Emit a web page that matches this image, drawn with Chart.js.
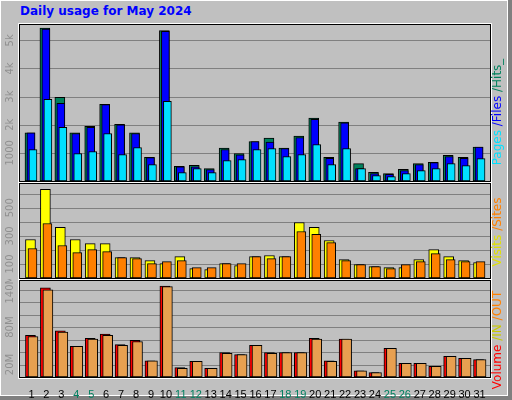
<!DOCTYPE html>
<html>
<head>
<meta charset="utf-8">
<script src="https://cdn.jsdelivr.net/npm/chart.js@4"></script>
<style>
  body { margin: 0; width: 512px; height: 400px; background: #808080; position: relative; overflow: hidden; font-family: "DejaVu Sans", sans-serif; }
  #frame { position: absolute; left: 0; top: 0; width: 506px; height: 394px; background: #c0c0c0; border: 1px solid #fff; }
  #title { position: absolute; left: 20px; top: 4px; font: bold 12px "DejaVu Sans", sans-serif; color: #0000ff; }
  canvas { position: absolute; left: 0; }
  .side { position: absolute; left: 497px; white-space: nowrap; font: 12px "DejaVu Sans", sans-serif; transform: translate(-50%, -50%) rotate(-90deg); }
</style>
</head>
<body>
<div id="frame"></div>
<div id="title">Daily usage for May 2024</div>
<canvas id="c1" style="top:23px" width="500" height="160"></canvas>
<canvas id="c2" style="top:182px" width="500" height="98"></canvas>
<canvas id="c3" style="top:279px" width="500" height="120"></canvas>
<div class="side" style="top:112px"><span style="color:#00e0ff">Pages</span><span style="color:#0000ff"> /Files</span><span style="color:#00805c"> /Hits_</span></div>
<div class="side" style="top:232px"><span style="color:#e0e000">Visits</span><span style="color:#ff8000"> /Sites</span></div>
<div class="side" style="top:340px"><span style="color:#ff0000">Volume</span><span style="color:#c8c800"> /IN</span><span style="color:#ff8000"> /OUT</span></div>
<script>
const days = Array.from({length: 31}, (_, i) => String(i + 1))
const weekend = ['4', '5', '11', '12', '18', '19', '25', '26']

const hits = [1714, 5440, 2976, 1714, 1940, 2726, 2012, 1714, 845, 5345, 524, 560, 440, 1167, 976, 1405,
  1524, 1167, 1595, 2238, 845, 2095, 619, 310, 262, 417, 619, 667, 917, 845, 1202]
const files = [1714, 5405, 2762, 1690, 1905, 2714, 2000, 1690, 833, 5321, 500, 500, 405, 1119, 929, 1405,
  1381, 1155, 1548, 2190, 810, 2071, 440, 262, 238, 369, 583, 655, 869, 810, 1202]
const pages = [1119, 2905, 1905, 976, 1048, 1690, 940, 1190, 583, 2833, 298, 440, 298, 726, 762, 1119,
  1155, 869, 940, 1298, 583, 1155, 440, 190, 155, 262, 369, 440, 619, 548, 798]

const visits = [274, 631, 360, 274, 245, 245, 145, 145, 124, 102, 152, 67, 60, 102, 88, 152,
  160, 152, 395, 360, 267, 131, 95, 81, 74, 74, 131, 202, 152, 124, 110]
const sites = [210, 388, 231, 181, 202, 188, 145, 138, 102, 117, 124, 74, 74, 102, 102, 152,
  138, 152, 331, 310, 252, 124, 95, 81, 67, 95, 117, 174, 131, 117, 117]

// MB
const volume = [67, 143, 74, 49, 62, 69, 52, 59, 26, 146, 15, 25, 14, 39, 36, 51,
  39, 39, 39, 62, 26, 61, 10, 7, 46, 22, 22, 17, 33, 30, 28]
const volOut = [65, 140, 72, 49, 61, 67, 51, 57, 26, 145, 14, 25, 14, 38, 36, 51,
  38, 39, 39, 61, 25, 61, 10, 7, 46, 22, 22, 17, 33, 30, 28]

const ticks1 = [1000, 2000, 3000, 4000, 5000]
const labels1 = ['1000', '2k', '3k', '4k', '5k']
const ticks2 = [100, 300, 500]
const grid2 = [100, 200, 300, 400, 500, 600]
const ticks3 = [20, 80, 140]
const grid3 = [20, 40, 60, 80, 100, 120, 140]

// offsets bars sideways, draws grid, frame and rotated y labels
const panelPlugin = {
  id: 'panel',
  beforeDatasetsDraw(chart) {
    const y = chart.scales.y, ctx = chart.ctx, o = chart.options.plugins.panel
    ctx.save()
    ctx.strokeStyle = '#808080'
    ctx.lineWidth = 1
    o.grid.forEach(v => {
      const py = Math.round(y.getPixelForValue(v)) + 0.5
      ctx.beginPath(); ctx.moveTo(20, py); ctx.lineTo(490, py); ctx.stroke()
    })
    ctx.fillStyle = '#909090'
    ctx.font = '10px "DejaVu Sans"'
    ctx.textAlign = 'center'
    ctx.textBaseline = 'middle'
    o.ticks.forEach((v, i) => {
      ctx.save()
      ctx.translate(10, y.getPixelForValue(v))
      ctx.rotate(-Math.PI / 2)
      ctx.fillText(o.labels[i], 0, 0)
      ctx.restore()
    })
    ctx.restore()
  },
  beforeDatasetDraw(chart, args) {
    chart.ctx.save()
    chart.ctx.translate(chart.data.datasets[args.index].dx || 0, 0)
  },
  afterDatasetDraw(chart) {
    chart.ctx.restore()
  },
  afterDraw(chart) {
    const a = chart.chartArea, ctx = chart.ctx
    ctx.save()
    ctx.strokeStyle = '#000'
    ctx.strokeRect(19.5, a.top - 0.5, 471, a.bottom - a.top + 1)
    ctx.strokeStyle = '#fff'
    ctx.beginPath()
    ctx.moveTo(18.5, a.bottom + 1.5); ctx.lineTo(18.5, a.top - 1.5); ctx.lineTo(491.5, a.top - 1.5)
    ctx.moveTo(18.5, a.bottom + 1.5); ctx.lineTo(491.5, a.bottom + 1.5); ctx.lineTo(491.5, a.top - 1.5)
    ctx.stroke()
    ctx.restore()
  }
}

const bar = (data, color, width, dx) => ({
  data, backgroundColor: color, borderColor: '#000', borderWidth: 1, borderSkipped: false,
  barThickness: width, grouped: false, dx
})

const makeChart = (id, datasets, max, o, showX) => new Chart(document.getElementById(id), {
  type: 'bar',
  data: { labels: days, datasets },
  options: {
    responsive: false, animation: false, events: [],
    layout: { padding: { left: 24, right: 13, top: 2, bottom: showX ? 0 : 2 } },
    plugins: { legend: { display: false }, tooltip: { enabled: false }, panel: o },
    scales: {
      x: {
        display: showX, grid: { display: false }, border: { display: false },
        afterFit: s => { s.height = showX ? 22 : 0 },
        ticks: {
          padding: 3, font: { size: 11, family: 'Liberation Sans' }, maxRotation: 0, autoSkip: false,
          color: c => weekend.includes(days[c.index]) ? '#008060' : '#000'
        }
      },
      y: { display: false, min: 0, max }
    }
  },
  plugins: [panelPlugin]
})

makeChart('c1', [
  bar(pages, '#00e0ff', 8, 1.5),
  bar(files, '#0000ff', 8, -0.5),
  bar(hits, '#00805c', 10, -1.5)
], 5546, { grid: ticks1, ticks: ticks1, labels: labels1 }, false)

makeChart('c2', [
  bar(sites, '#ff8000', 9, 1),
  bar(visits, '#ffff00', 10, -1)
], 669, { grid: grid2, ticks: ticks2, labels: ticks2.map(String) }, false)

makeChart('c3', [
  bar(volOut, '#e8a050', 10, 1.5),
  bar(volume, '#ff0000', 10, -1)
], 154, { grid: grid3, ticks: ticks3, labels: ticks3.map(v => v + 'M') }, true)
</script>
</body>
</html>
